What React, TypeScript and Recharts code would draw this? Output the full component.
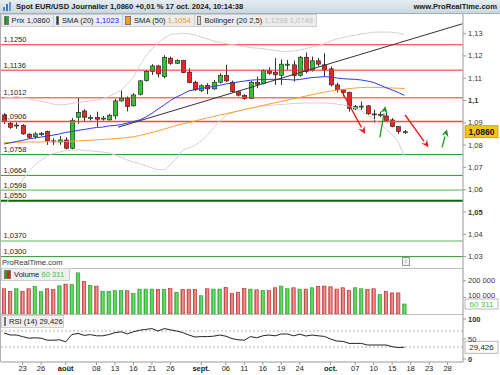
import React from 'react'
import { ComposedChart, Bar, Line, XAxis, YAxis, ReferenceLine } from 'recharts'

const FONT = '"Liberation Sans", Arial, Helvetica, sans-serif'
const MARGIN = { top: 0, right: 1, left: 1, bottom: 0 }

// trading days (MM-DD); the last 9 are empty days on the right of the chart
const dates = [
  '07-18', '07-19', '07-22', '07-23', '07-24', '07-25', '07-26', '07-29', '07-30', '07-31',
  '08-01', '08-02', '08-05', '08-06', '08-07', '08-08', '08-09', '08-12', '08-13', '08-14',
  '08-15', '08-16', '08-19', '08-20', '08-21', '08-22', '08-23', '08-26', '08-27', '08-28',
  '08-29', '08-30', '09-02', '09-03', '09-04', '09-05', '09-06', '09-09', '09-10', '09-11',
  '09-12', '09-13', '09-16', '09-17', '09-18', '09-19', '09-20', '09-23', '09-24', '09-25',
  '09-26', '09-27', '09-30', '10-01', '10-02', '10-03', '10-04', '10-07', '10-08', '10-09',
  '10-10', '10-11', '10-14', '10-15', '10-16', '10-17',
  '10-18', '10-21', '10-22', '10-23', '10-24', '10-25', '10-28', '10-29', '10-30',
]

const open = [
  1.0935, 1.0898, 1.0887, 1.0888, 1.0849, 1.0838, 1.0849, 1.0861, 1.0819, 1.0814,
  1.0823, 1.0786, 1.0925, 1.0953, 1.0922, 1.0925, 1.0919, 1.0913, 1.0931, 1.0998,
  1.1010, 1.0976, 1.1028, 1.1089, 1.1130, 1.1155, 1.1107, 1.1190, 1.1167, 1.1179,
  1.1127, 1.1082, 1.1045, 1.1067, 1.1052, 1.1082, 1.1112, 1.1082, 1.1039, 1.1022,
  1.1009, 1.1082, 1.1077, 1.1134, 1.1127, 1.1112, 1.1160, 1.1160, 1.1112, 1.1194,
  1.1137, 1.1178, 1.1160, 1.1142, 1.1070, 1.1048, 1.1036, 1.0962, 1.0973, 1.0976,
  1.0940, 1.0936, 1.0931, 1.0913, 1.0883, 1.0859,
]
const high = [
  1.0943, 1.0904, 1.0901, 1.0894, 1.0853, 1.0858, 1.0859, 1.0865, 1.0831, 1.0841,
  1.0835, 1.0921, 1.1012, 1.0961, 1.0935, 1.0950, 1.0931, 1.0940, 1.1007, 1.1044,
  1.1018, 1.1033, 1.1092, 1.1137, 1.1163, 1.1160, 1.1203, 1.1197, 1.1185, 1.1182,
  1.1145, 1.1089, 1.1073, 1.1078, 1.1092, 1.1122, 1.1161, 1.1089, 1.1043, 1.1028,
  1.1088, 1.1107, 1.1140, 1.1149, 1.1190, 1.1185, 1.1182, 1.1179, 1.1200, 1.1215,
  1.1197, 1.1190, 1.1212, 1.1152, 1.1080, 1.1051, 1.1040, 1.0980, 1.0995, 1.0980,
  1.0958, 1.0950, 1.0950, 1.0921, 1.0886, 1.0868,
]
const low = [
  1.0895, 1.0873, 1.0873, 1.0847, 1.0828, 1.0829, 1.0841, 1.0801, 1.0801, 1.0801,
  1.0781, 1.0781, 1.0895, 1.0906, 1.0910, 1.0883, 1.0910, 1.0910, 1.0916, 1.0995,
  1.0951, 1.0973, 1.1023, 1.1085, 1.1115, 1.1104, 1.1100, 1.1160, 1.1164, 1.1122,
  1.1077, 1.1043, 1.1037, 1.1028, 1.1048, 1.1077, 1.1082, 1.1036, 1.1018, 1.1003,
  1.1006, 1.1055, 1.1073, 1.1115, 1.1070, 1.1070, 1.1137, 1.1085, 1.1107, 1.1122,
  1.1130, 1.1152, 1.1107, 1.1063, 1.1036, 1.1018, 1.0950, 1.0958, 1.0958, 1.0936,
  1.0901, 1.0925, 1.0905, 1.0880, 1.0850, 1.0850,
]
const close = [
  1.0906, 1.0880, 1.0890, 1.0850, 1.0835, 1.0850, 1.0852, 1.0819, 1.0815, 1.0823,
  1.0786, 1.0910, 1.0947, 1.0925, 1.0924, 1.0916, 1.0921, 1.0934, 1.0998, 1.1010,
  1.0973, 1.1025, 1.1088, 1.1130, 1.1155, 1.1119, 1.1193, 1.1167, 1.1179, 1.1125,
  1.1080, 1.1048, 1.1066, 1.1052, 1.1082, 1.1112, 1.1088, 1.1040, 1.1024, 1.1009,
  1.1082, 1.1073, 1.1134, 1.1122, 1.1115, 1.1163, 1.1163, 1.1112, 1.1194, 1.1130,
  1.1178, 1.1163, 1.1137, 1.1070, 1.1048, 1.1036, 1.0965, 1.0973, 1.0975, 1.0940,
  1.0936, 1.0938, 1.0910, 1.0883, 1.0861, 1.0860,
]

const sma20 = [
  1.0805, 1.0810, 1.0816, 1.0821, 1.0828, 1.0832, 1.0836, 1.0841, 1.0845, 1.0850,
  1.0857, 1.0861, 1.0866, 1.0870, 1.0875, 1.0879, 1.0881, 1.0886, 1.0888, 1.0892,
  1.0899, 1.0906, 1.0913, 1.0926, 1.0942, 1.0962, 1.0980, 1.1000, 1.1016, 1.1029,
  1.1043, 1.1049, 1.1055, 1.1058, 1.1063, 1.1068, 1.1074, 1.1078, 1.1083, 1.1087,
  1.1091, 1.1093, 1.1094, 1.1095, 1.1095, 1.1095, 1.1094, 1.1092, 1.1094, 1.1099,
  1.1103, 1.1105, 1.1107, 1.1105, 1.1101, 1.1098, 1.1096, 1.1095, 1.1092, 1.1087,
  1.1081, 1.1069, 1.1058, 1.1047, 1.1036, 1.1023,
]
const sma50 = [
  1.0812, 1.0812, 1.0813, 1.0813, 1.0814, 1.0814, 1.0814, 1.0815, 1.0815, 1.0815,
  1.0816, 1.0817, 1.0819, 1.0820, 1.0822, 1.0823, 1.0825, 1.0827, 1.0829, 1.0831,
  1.0834, 1.0837, 1.0843, 1.0850, 1.0857, 1.0864, 1.0872, 1.0880, 1.0888, 1.0895,
  1.0901, 1.0908, 1.0915, 1.0922, 1.0928, 1.0935, 1.0941, 1.0947, 1.0953, 1.0959,
  1.0966, 1.0972, 1.0978, 1.0984, 1.0990, 1.0996, 1.1002, 1.1008, 1.1014, 1.1020,
  1.1026, 1.1032, 1.1037, 1.1042, 1.1046, 1.1050, 1.1053, 1.1056, 1.1058, 1.1059,
  1.1059, 1.1058, 1.1057, 1.1056, 1.1055, 1.1054,
]
const bollUp = [
  1.1011, 1.1013, 1.1017, 1.1013, 1.1007, 1.1002, 1.0996, 1.0991, 1.0984, 1.0980,
  1.0982, 1.0987, 1.0991, 1.0994, 1.0998, 1.1001, 1.1007, 1.1018, 1.1031, 1.1047,
  1.1074, 1.1105, 1.1155, 1.1199, 1.1231, 1.1258, 1.1280, 1.1296, 1.1299, 1.1301,
  1.1300, 1.1293, 1.1284, 1.1276, 1.1267, 1.1260, 1.1255, 1.1251, 1.1246, 1.1242,
  1.1237, 1.1235, 1.1233, 1.1228, 1.1224, 1.1220, 1.1220, 1.1222, 1.1226, 1.1233,
  1.1240, 1.1246, 1.1255, 1.1267, 1.1276, 1.1282, 1.1289, 1.1293, 1.1298, 1.1302,
  1.1306, 1.1307, 1.1307, 1.1306, 1.1302, 1.1298,
]
const bollLow = [
  1.0532, 1.0563, 1.0599, 1.0644, 1.0680, 1.0711, 1.0733, 1.0751, 1.0763, 1.0769,
  1.0776, 1.0778, 1.0778, 1.0776, 1.0774, 1.0772, 1.0769, 1.0765, 1.0756, 1.0745,
  1.0733, 1.0724, 1.0718, 1.0707, 1.0698, 1.0689, 1.0689, 1.0711, 1.0742, 1.0778,
  1.0787, 1.0800, 1.0818, 1.0845, 1.0877, 1.0908, 1.0931, 1.0944, 1.0953, 1.0960,
  1.0966, 1.0971, 1.0975, 1.0978, 1.0980, 1.0982, 1.0984, 1.0987, 1.0987, 1.0989,
  1.0989, 1.0989, 1.0989, 1.0987, 1.0984, 1.0980, 1.0975, 1.0966, 1.0953, 1.0935,
  1.0917, 1.0895, 1.0872, 1.0845, 1.0814, 1.0748,
]

const volume = [
  152000, 137000, 152000, 137000, 152000, 166000, 135000, 152000, 148000, 170000,
  180000, 178000, 248000, 196000, 172000, 168000, 137000, 137000, 141000, 141000,
  140000, 123000, 150000, 150000, 150000, 148000, 148000, 154000, 131000, 148000,
  148000, 148000, 110000, 152000, 150000, 150000, 160000, 123000, 131000, 154000,
  150000, 146000, 141000, 141000, 158000, 168000, 152000, 158000, 150000, 150000,
  158000, 166000, 168000, 164000, 150000, 158000, 143000, 158000, 152000, 148000,
  152000, 117000, 135000, 127000, 127000, 60311,
]
const rsi = [
  65, 60, 60, 56, 52, 53, 52, 47, 47, 48,
  43, 61, 64, 59, 61, 58, 58, 61, 66, 68,
  63, 68, 72, 74, 76, 70, 76, 73, 70, 66,
  60, 55, 56, 56, 57, 60, 57, 51, 48, 47,
  56, 53, 58, 60, 58, 62.5, 62.5, 58, 62, 57.5,
  60, 58, 56.5, 50, 45, 44, 39, 39, 39, 35,
  35, 35, 35, 31, 28.5, 29.426,
]

const tickDates = ['07-23', '07-26', '08-01', '08-08', '08-13', '08-16', '08-21', '08-26', '09-02', '09-06', '09-11',
  '09-16', '09-19', '09-24', '10-01', '10-07', '10-10', '10-15', '10-18', '10-23', '10-28']
const tickTexts = ['23', '26', 'août', '08', '13', '16', '21', '26', 'sept.', '06', '11',
  '16', '19', '24', 'oct.', '07', '10', '15', '18', '23', '28']

const priceTicks = [1.03, 1.04, 1.05, 1.06, 1.07, 1.08, 1.09, 1.1, 1.11, 1.12, 1.13]
const levels = [1.125, 1.1136, 1.1012, 1.0906, 1.0758, 1.0664, 1.0598, 1.055, 1.037, 1.03]
const levelColors = ['#ff2b2b', '#ff2b2b', '#ff2b2b', '#ff4646', '#2f9a2f', '#2f9a2f', '#98d698', '#0b6b0b', '#57b957', '#2f9a2f']
const levelWidths = [1, 1, 1, 1.6, 1, 1, 1.6, 2, 1.2, 1]

// drawn by hand on the chart: [fromIndex, fromPrice, toIndex, toPrice]
const trendLine = [18.5, 1.088, 74.4, 1.1344]
const arrows = [
  [54.7, 1.1047, 58.6, 1.085],
  [61.0, 1.0835, 61.9, 1.0975],
  [65.1, 1.0935, 68.9, 1.079],
  [71.1, 1.079, 71.9, 1.0871],
]
const arrowColors = ['#e81818', '#1f9a1f', '#e81818', '#1f9a1f']

const rows = dates.map((d, i) => {
  const has = i < close.length
  return {
    d,
    i,
    o: has ? open[i] : null,
    h: has ? high[i] : null,
    l: has ? low[i] : null,
    c: has ? close[i] : null,
    range: has ? [low[i], high[i]] : null,
    sma20: has ? sma20[i] : null,
    sma50: has ? sma50[i] : null,
    up: has ? bollUp[i] : null,
    lo: has ? bollLow[i] : null,
    vol: has ? volume[i] : null,
    rsi: has ? rsi[i] : null,
    rise: has ? close[i] >= open[i] : false,
  }
})

const comma = (v: number, d: number) => v.toFixed(d).replace('.', ',')

const Candle = (p: any) => {
  const { x, y, width, height, payload } = p
  if (payload.o == null) return null
  const { o, h, l, c } = payload
  const k = h > l ? height / (h - l) : 0
  const py = (v: number) => y + (h - v) * k
  const cx = Math.round(x + width / 2) + 0.5
  const top = py(Math.max(o, c))
  const bot = py(Math.min(o, c))
  const rise = c >= o
  return (
    <g>
      <line x1={cx} x2={cx} y1={y} y2={y + height} stroke="#333" strokeWidth={1} />
      <rect x={cx - 2.2} y={top} width={4.4} height={Math.max(1, bot - top)}
        fill={rise ? '#35c035' : '#ec2424'} stroke="#222" strokeWidth={0.6} />
    </g>
  )
}

const VolBar = (p: any) => {
  const { x, y, width, height, payload } = p
  if (payload.vol == null) return null
  const rise = payload.rise
  return (
    <rect x={x + 0.3} y={y} width={width - 0.6} height={height}
      fill={rise ? 'url(#vUp)' : 'url(#vDn)'} stroke={rise ? '#2a9a2a' : '#b52c2c'} strokeWidth={0.6} />
  )
}

const arrowShape = (color: string) => (p: any) => {
  const { x1, y1, x2, y2 } = p
  const a = Math.atan2(y2 - y1, x2 - x1)
  const len = 7.5
  const half = 3.6
  const bx = x2 - len * Math.cos(a)
  const by = y2 - len * Math.sin(a)
  const nx = -Math.sin(a) * half
  const ny = Math.cos(a) * half
  return (
    <g>
      <line x1={x1} y1={y1} x2={bx} y2={by} stroke={color} strokeWidth={1.3} />
      <polygon points={`${x2},${y2} ${bx + nx},${by + ny} ${bx + 0.35 * (x2 - bx)},${by + 0.35 * (y2 - by)} ${bx - nx},${by - ny}`} fill={color} />
    </g>
  )
}

const PriceTick = (p: any) => {
  const v = p.payload.value
  const bold = Math.round(v * 100) % 5 === 0
  return (
    <text x={p.x} y={p.y} dy={2.5} fontSize={7.5} fontWeight={bold ? 700 : 400} fill="#333" fontFamily={FONT}>
      {String(+v.toFixed(2)).replace('.', ',')}
    </text>
  )
}

// the 100 000 label sits just above the last-volume tag, as in the original
const VolTick = (p: any) => (
  <text x={p.x} y={p.y} dy={p.payload.value === 100000 ? 0.5 : 2.5} fontSize={7.5} fill="#333" fontFamily={FONT}>
    {`${p.payload.value / 1000} 000`}
  </text>
)

const RsiTick = (p: any) => {
  const v = p.payload.value
  return (
    <text x={p.x} y={p.y} dy={2.5} fontSize={7.5} fontWeight={v === 50 ? 400 : 700} fill="#333" fontFamily={FONT}>
      {v}
    </text>
  )
}

const tickIdx = tickDates.map(d => dates.indexOf(d))

const DateTick = (p: any) => {
  const t = tickTexts[tickIdx.indexOf(p.payload.value)]
  const bold = isNaN(Number(t))
  return (
    <text x={p.x} y={p.y} dy={5} textAnchor="middle" fontSize={7.5} fontWeight={bold ? 700 : 400} fill="#222" fontFamily={FONT}>
      {t}
    </text>
  )
}

const valueTag = (text: string, bg: string, color: string, bold: boolean, h = 12) => (p: any) => {
  const vb = p.viewBox
  const x = vb.x + vb.width + 2
  const y = vb.y
  return (
    <g>
      <rect x={x} y={y - h / 2} width={33} height={h} fill={bg} stroke={bold ? '#b89000' : '#999'} strokeWidth={0.7} />
      <text x={x + 16.5} y={y + 3} textAnchor="middle" fontSize={bold ? 8.5 : 8} fontWeight={bold ? 700 : 400}
        fill={color} fontFamily={FONT}>{text}</text>
    </g>
  )
}

const boxStyle: React.CSSProperties = {
  position: 'absolute',
  height: 11,
  background: '#ececec',
  border: '1px solid #cfcfcf',
  display: 'flex',
  alignItems: 'center',
  fontSize: 7.6,
  color: '#222',
  whiteSpace: 'nowrap',
  paddingRight: 3,
  zIndex: 2,
}

const sq = (bg: string): React.CSSProperties => ({
  width: 5, height: 7, background: bg, margin: '0 3px 0 2px', border: '0.5px solid #777',
})

export default function App() {
  return (
    <div style={{ position: 'absolute', left: 0, top: 0, width: 500, height: 375, background: '#fff', fontFamily: FONT, overflow: 'hidden' }}>
      <svg width={0} height={0} style={{ position: 'absolute' }}>
        <defs>
          <linearGradient id="vUp" x1="0" x2="1" y1="0" y2="0">
            <stop offset="0" stopColor="#2fae2f" />
            <stop offset="0.5" stopColor="#6ee06e" />
            <stop offset="1" stopColor="#3fca3f" />
          </linearGradient>
          <linearGradient id="vDn" x1="0" x2="1" y1="0" y2="0">
            <stop offset="0" stopColor="#c83a3a" />
            <stop offset="0.5" stopColor="#f29a9a" />
            <stop offset="1" stopColor="#e06666" />
          </linearGradient>
        </defs>
      </svg>

      {/* title bar */}
      <div style={{
        position: 'absolute', left: 0, top: 0, width: 500, height: 13,
        background: 'linear-gradient(#e6edf2, #cbd7df)', borderBottom: '1px solid #9eb0bb',
        display: 'flex', alignItems: 'center', fontSize: 7.6, fontWeight: 700, color: '#1b1b1b',
      }}>
        <svg width={11} height={11} style={{ margin: '0 3px 0 2px' }}>
          <rect x={1} y={6} width={2} height={4} fill="#4a8fd6" />
          <rect x={4} y={3} width={2} height={7} fill="#3a78c4" />
          <rect x={7} y={1} width={2} height={9} fill="#5aa0e0" />
        </svg>
        <span>Spot EUR/USD Journalier 1,0860 +0,01 % 17 oct. 2024, 10:14:38</span>
        <span style={{ marginLeft: 'auto', marginRight: 3 }}>www.ProRealTime.com</span>
      </div>

      {/* legend of the price panel */}
      <div style={{ ...boxStyle, left: 1, top: 14, width: 48 }}>
        <div style={{ ...sq('linear-gradient(90deg, #d22 50%, #2a2 50%)') }} />Prix 1,0860
      </div>
      <div style={{ ...boxStyle, left: 53, top: 14, width: 65 }}>
        <div style={sq('#1010ff')} />SMA (20)&nbsp;<span style={{ color: '#1a1aff' }}>1,1023</span>
      </div>
      <div style={{ ...boxStyle, left: 122, top: 14, width: 68 }}>
        <div style={sq('#ff9a1a')} />SMA (50)&nbsp;<span style={{ color: '#f39a2a' }}>1,1054</span>
      </div>
      <div style={{ ...boxStyle, left: 194, top: 14, width: 118 }}>
        <div style={sq('#d6d6d6')} />Bollinger (20 2,5)&nbsp;<span style={{ color: '#bdbdbd' }}>1,1298 1,0748</span>
      </div>

      {/* price panel */}
      <div style={{ position: 'absolute', left: 0, top: 14 }}>
        <ComposedChart width={500} height={254} data={rows} margin={MARGIN}>
          <XAxis dataKey="d" hide />
          <XAxis xAxisId="n" type="number" dataKey="i" domain={[-0.5, 74.5]} hide allowDataOverflow />
          <YAxis orientation="right" width={36} domain={[1.02489, 1.13879]} allowDataOverflow ticks={priceTicks}
            interval={0} tick={<PriceTick />} tickSize={3} tickMargin={2} stroke="#9a9a9a" tickLine={{ stroke: '#9a9a9a' }} />
          {levels.map((v, k) => (
            <ReferenceLine key={v} y={v} stroke={levelColors[k]} strokeWidth={levelWidths[k]} ifOverflow="visible"
              label={{ value: comma(v, 4), position: 'insideBottomLeft', offset: 2.5, fontSize: 7.5, fill: '#222', fontFamily: FONT }} />
          ))}
          <Line dataKey="up" stroke="#d2d2d2" strokeWidth={1} dot={false} isAnimationActive={false} />
          <Line dataKey="lo" stroke="#d2d2d2" strokeWidth={1} dot={false} isAnimationActive={false} />
          <Line dataKey="sma50" stroke="#ffa030" strokeWidth={1} dot={false} isAnimationActive={false} />
          <Line dataKey="sma20" stroke="#2a3cf0" strokeWidth={1} dot={false} isAnimationActive={false} />
          <ReferenceLine xAxisId="n" ifOverflow="visible" stroke="#333" strokeWidth={1}
            segment={[{ x: trendLine[0], y: trendLine[1] }, { x: trendLine[2], y: trendLine[3] }]} />
          <Bar dataKey="range" shape={Candle} isAnimationActive={false} />
          {arrows.map((a, k) => (
            <ReferenceLine key={k} xAxisId="n" ifOverflow="visible" stroke={arrowColors[k]}
              segment={[{ x: a[0], y: a[1] }, { x: a[2], y: a[3] }]} shape={arrowShape(arrowColors[k])} />
          ))}
          <ReferenceLine y={close[close.length - 1]} stroke="none" ifOverflow="visible"
            label={{ content: valueTag('1,0860', '#f4c418', '#111', true) }} />
        </ComposedChart>
      </div>
      <div style={{ position: 'absolute', left: 2, top: 258, fontSize: 7.6, color: '#333' }}>ProRealTime.com</div>
      <div style={{ position: 'absolute', left: 402, top: 257, width: 6, height: 7, border: '1px solid #999', background: '#f4f4f4', fontSize: 6, lineHeight: '7px', textAlign: 'center', color: '#666' }}>i</div>

      {/* volume panel */}
      <div style={{ position: 'absolute', left: 0, top: 268, width: 463, borderTop: '1px solid #bcbcbc' }} />
      <div style={{ ...boxStyle, left: 1, top: 268, width: 64, background: '#efefef' }}>
        <div style={{ ...sq('linear-gradient(90deg, #2a2 50%, #d22 50%)') }} />Volume&nbsp;<span style={{ color: '#3cc83c' }}>60 311</span>
      </div>
      <div style={{ position: 'absolute', left: 0, top: 268 }}>
        <ComposedChart width={500} height={46} data={rows} margin={MARGIN} barCategoryGap={1}>
          <XAxis dataKey="d" hide />
          <YAxis orientation="right" width={36} domain={[0, 277000]} allowDataOverflow ticks={[100000, 200000]}
            interval={0} tick={<VolTick />} tickSize={3} tickMargin={2} stroke="#9a9a9a" tickLine={{ stroke: '#9a9a9a' }} />
          <Bar dataKey="vol" shape={VolBar} isAnimationActive={false} />
          <ReferenceLine y={volume[volume.length - 1]} stroke="none" ifOverflow="visible"
            label={{ content: valueTag('60 311', '#fff', '#3cc83c', false, 10) }} />
        </ComposedChart>
      </div>

      {/* RSI panel */}
      <div style={{ position: 'absolute', left: 0, top: 314, width: 463, borderTop: '1px solid #bcbcbc' }} />
      <div style={{ ...boxStyle, left: 1, top: 315, width: 58, background: '#efefef' }}>
        <div style={sq('#111')} />RSI (14) 29,426
      </div>
      <div style={{ position: 'absolute', left: 0, top: 314 }}>
        <ComposedChart width={500} height={61} data={rows} margin={MARGIN}>
          <XAxis dataKey="i" type="number" domain={[-0.5, 74.5]} allowDataOverflow ticks={tickIdx} interval={0}
            tick={<DateTick />} tickSize={3} tickMargin={1} height={13} stroke="#9a9a9a" tickLine={{ stroke: '#9a9a9a' }} />
          <YAxis orientation="right" width={36} domain={[-7.5, 112.5]} allowDataOverflow ticks={[0, 50, 100]}
            interval={0} tick={<RsiTick />} tickSize={3} tickMargin={2} stroke="#9a9a9a" tickLine={{ stroke: '#9a9a9a' }} />
          <ReferenceLine y={70} stroke="#b0b0b0" strokeDasharray="2 2" />
          <ReferenceLine y={30} stroke="#b0b0b0" strokeDasharray="2 2" />
          <Line dataKey="rsi" stroke="#222" strokeWidth={1} dot={false} isAnimationActive={false} />
          <ReferenceLine y={rsi[rsi.length - 1]} stroke="none" ifOverflow="visible"
            label={{ content: valueTag('29,426', '#fff', '#222', false) }} />
        </ComposedChart>
      </div>

      {/* left frame */}
      <div style={{ position: 'absolute', left: 0, top: 14, width: 1, height: 348, background: '#b0b0b0' }} />
    </div>
  )
}
